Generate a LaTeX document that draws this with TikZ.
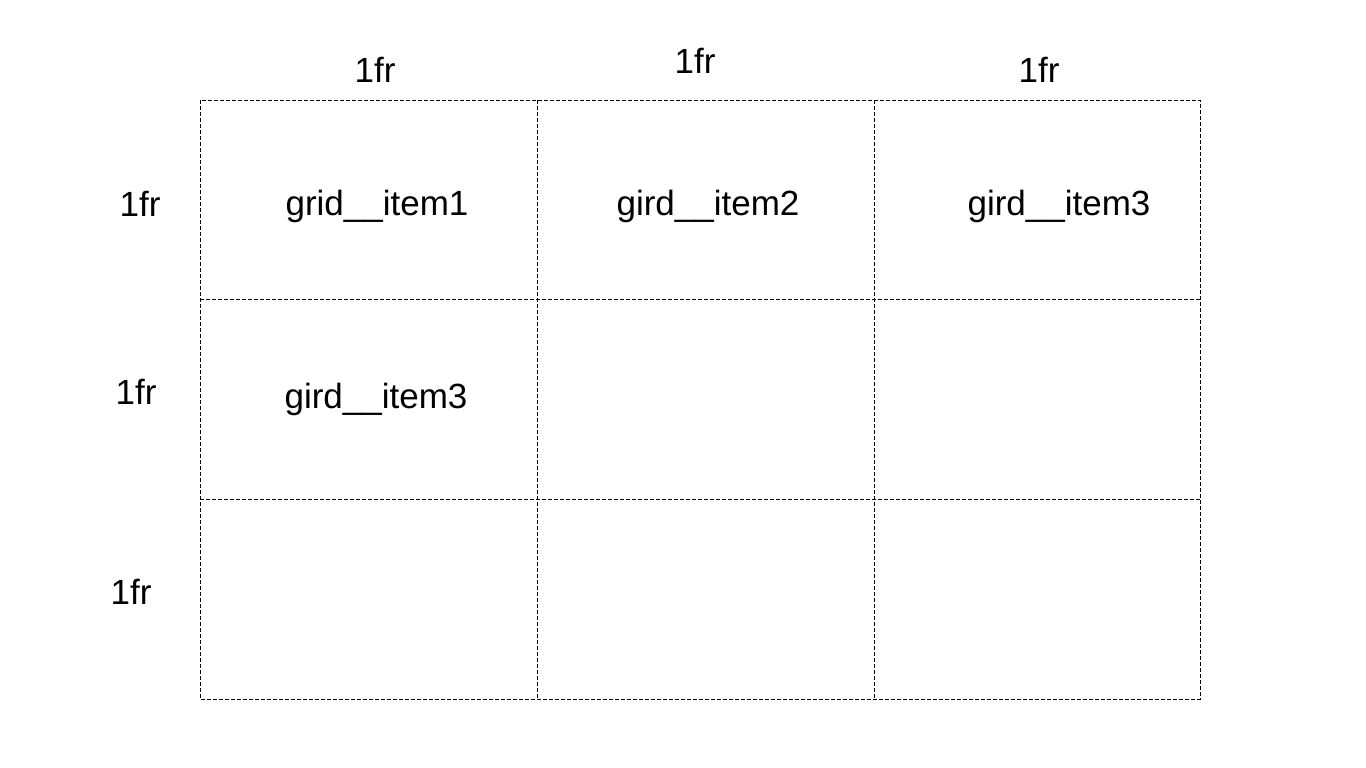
\documentclass[tikz,border=0pt]{standalone}
\usepackage{fontspec}
\setmainfont{Liberation Sans}
\begin{document}
\begin{tikzpicture}[x=1pt,y=-1pt,
  gridline/.style={line width=1pt,dash pattern=on 4pt off 2pt},
  lbl/.style={anchor=base,inner sep=0pt,font=\fontsize{35}{42}\selectfont}]
\useasboundingbox[fill=white] (0,0) rectangle (1366,768);
% grid track lines
\draw[gridline] (200,100) rectangle (1200,699);
\draw[gridline] (537,100) -- (537,699);
\draw[gridline] (874,100) -- (874,699);
\draw[gridline] (200,299) -- (1200,299);
\draw[gridline] (200,499) -- (1200,499);
% column sizes
\node[lbl] (c1) at (375,82) {1fr};
\node[lbl] (c2) at (695,74) {1fr};
\node[lbl] (c3) at (1039,82) {1fr};
% row sizes
\node[lbl] (r1) at (140,216) {1fr};
\node[lbl] (r2) at (136,404) {1fr};
\node[lbl] (r3) at (131,604) {1fr};
% items
\node[lbl] (i1) at (377,215) {grid\_\_item1};
\node[lbl] (i2) at (708,215) {gird\_\_item2};
\node[lbl] (i3) at (1059,215) {gird\_\_item3};
\node[lbl] (i4) at (376,408) {gird\_\_item3};
\end{tikzpicture}
\end{document}
